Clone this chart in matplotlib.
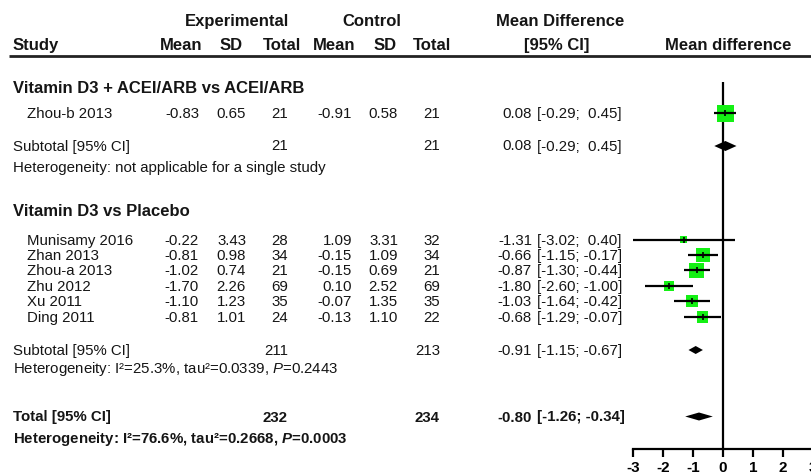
import numpy as np
import matplotlib
matplotlib.use('Agg')
import matplotlib.pyplot as plt

plt.rcParams['font.family'] = ['Liberation Sans', 'DejaVu Sans']
plt.rcParams['mathtext.fontset'] = 'custom'
plt.rcParams['mathtext.rm'] = 'Liberation Sans'
plt.rcParams['mathtext.it'] = 'Liberation Sans:italic'
plt.rcParams['mathtext.bf'] = 'Liberation Sans:bold'
plt.rcParams['mathtext.bfit'] = 'Liberation Sans:bold:italic'

# ---- data ----
group_names = ['Vitamin D3 + ACEI/ARB vs ACEI/ARB', 'Vitamin D3 vs Placebo']
study = ['Zhou-b 2013', 'Munisamy 2016', 'Zhan 2013', 'Zhou-a 2013', 'Zhu 2012', 'Xu 2011', 'Ding 2011']
group = [0, 1, 1, 1, 1, 1, 1]
exp_mean = [-0.83, -0.22, -0.81, -1.02, -1.70, -1.10, -0.81]
exp_sd = [0.65, 3.43, 0.98, 0.74, 2.26, 1.23, 1.01]
exp_n = [21, 28, 34, 21, 69, 35, 24]
ctl_mean = [-0.91, 1.09, -0.15, -0.15, 0.10, -0.07, -0.13]
ctl_sd = [0.58, 3.31, 1.09, 0.69, 2.52, 1.35, 1.10]
ctl_n = [21, 32, 34, 21, 69, 35, 22]
md = [0.08, -1.31, -0.66, -0.87, -1.80, -1.03, -0.68]
ci_lo = [-0.29, -3.02, -1.15, -1.30, -2.60, -1.64, -1.29]
ci_hi = [0.45, 0.40, -0.17, -0.44, -1.00, -0.42, -0.07]

sub_exp_n = [21, 211]
sub_ctl_n = [21, 213]
sub_md = [0.08, -0.91]
sub_lo = [-0.29, -1.15]
sub_hi = [0.45, -0.67]
sub_i2 = [None, '25.3%']
sub_tau2 = [None, '0.0339']
sub_p = [None, '0.2443']

tot_exp_n = 232
tot_ctl_n = 234
tot_md = -0.80
tot_lo = -1.26
tot_hi = -0.34
tot_i2 = '76.6%'
tot_tau2 = '0.2668'
tot_p = '0.0003'

x_ticks = [-3, -2, -1, 0, 1, 2, 3]

# ---- layout (pixel rows from the top) ----
BODY = 10.8
HEAD = 12
TXT = '#151515'
GREEN = '#14f014'

head_y = [88, 211]
study_y = [113] + [239.5 + 15.45 * i for i in range(6)]
sub_y = [145.5, 350]
het_y = [167, 368]
total_y = 416.5
total_het_y = 438
axis_y = 449

col_right = [199, 246, 288, 352, 398, 440, 532]
ci_left = 537


def f2(v):
    return f'{v:.2f}'


def ci_str(lo, hi):
    return f'[{lo:5.2f}; {hi:5.2f}]'


fig = plt.figure(figsize=(8.12, 4.74), dpi=100)
tx = fig.add_axes([0, 0, 1, 1])
tx.set_xlim(0, 812)
tx.set_ylim(474, 0)
tx.axis('off')


def put(x, y, s, ha='left', bold=False, size=BODY):
    tx.text(x, y + 5, s, ha=ha, va='baseline', fontsize=size,
            fontweight='bold' if bold else 'normal', color=TXT)


# column headers
put(237.5, 21, 'Experimental', ha='center', bold=True, size=HEAD)
put(372, 21, 'Control', ha='center', bold=True, size=HEAD)
put(560, 21, 'Mean Difference', ha='center', bold=True, size=HEAD)
put(13, 45, 'Study', bold=True, size=HEAD)
for xc, lab in zip([181.5, 231.5, 282.5, 334, 385, 432.5, 557, 728.5],
                   ['Mean', 'SD', 'Total', 'Mean', 'SD', 'Total', '[95% CI]', 'Mean difference']):
    put(xc, 45, lab, ha='center', bold=True, size=HEAD)
tx.plot([9, 812], [56, 56], color='#222222', lw=2.0, solid_capstyle='butt')

# study rows
for i in range(len(study)):
    y = study_y[i]
    put(27, y, study[i])
    vals = [f2(exp_mean[i]), f2(exp_sd[i]), str(exp_n[i]),
            f2(ctl_mean[i]), f2(ctl_sd[i]), str(ctl_n[i]), f2(md[i])]
    for xr, v in zip(col_right, vals):
        put(xr, y, v, ha='right')
    put(ci_left, y, ci_str(ci_lo[i], ci_hi[i]))

# subgroup headers, subtotals and heterogeneity
for g in range(2):
    put(13, head_y[g], group_names[g], bold=True, size=HEAD)
    put(13, sub_y[g], 'Subtotal [95% CI]')
    put(col_right[2], sub_y[g], str(sub_exp_n[g]), ha='right')
    put(col_right[5], sub_y[g], str(sub_ctl_n[g]), ha='right')
    put(col_right[6], sub_y[g], f2(sub_md[g]), ha='right')
    put(ci_left, sub_y[g], ci_str(sub_lo[g], sub_hi[g]))
    if sub_i2[g] is None:
        put(13, het_y[g], 'Heterogeneity: not applicable for a single study')
    else:
        put(13, het_y[g], f'Heterogeneity: I²={sub_i2[g]}, tau²={sub_tau2[g]}, '
                          r'$\mathit{P}$' + f'={sub_p[g]}')

# overall
put(13, total_y, 'Total [95% CI]', bold=True)
put(col_right[2], total_y, str(tot_exp_n), ha='right', bold=True)
put(col_right[5], total_y, str(tot_ctl_n), ha='right', bold=True)
put(col_right[6], total_y, f2(tot_md), ha='right', bold=True)
put(ci_left, total_y, ci_str(tot_lo, tot_hi), bold=True)
put(13, total_het_y, f'Heterogeneity: I²={tot_i2}, tau²={tot_tau2}, '
                     r'$\mathbfit{P}$' + f'={tot_p}', bold=True)

# ---- forest panel ----
ax = fig.add_axes([633 / 812, 0, 180 / 812, 1])
ax.set_xlim(-3, 3)
ax.set_ylim(474, 0)
ax.patch.set_visible(False)
for side in ['top', 'right', 'left']:
    ax.spines[side].set_visible(False)
ax.spines['bottom'].set_position(('data', axis_y))
ax.spines['bottom'].set_linewidth(1.6)
ax.set_yticks([])
ax.set_xticks(x_ticks)
ax.set_xticklabels([str(t) for t in x_ticks])
ax.tick_params(axis='x', direction='out', length=5.8, width=1.6, pad=2.8, labelsize=11)
for lab in ax.get_xticklabels():
    lab.set_fontweight('bold')

ax.vlines(0, 82, axis_y, color='black', lw=1.6, zorder=1)

# box size from inverse-variance weight
lo_a = np.array(ci_lo)
hi_a = np.array(ci_hi)
se = (hi_a - lo_a) / 3.92
w = 1 / se ** 2
side_px = 3.7 + 13.3 * np.sqrt(w / w.max())
side_pt = side_px * 72 / fig.dpi

ax.scatter(md, study_y, s=side_pt ** 2, marker='s', color=GREEN, edgecolors='none', zorder=2)
ax.hlines(study_y, ci_lo, ci_hi, color='black', lw=1.6, zorder=3)
ax.plot(md, study_y, ls='none', marker='|', ms=4, mew=1.2, color='black', zorder=4)


def diamond(m, lo, hi, y, h):
    ax.fill([lo, m, hi, m], [y, y - h / 2, y, y + h / 2], color='black', zorder=3, lw=0)


diamond(sub_md[0], sub_lo[0], sub_hi[0], sub_y[0] + 0.5, 10)
diamond(sub_md[1], sub_lo[1], sub_hi[1], sub_y[1], 8)
diamond(tot_md, tot_lo, tot_hi, total_y, 8)

fig.savefig('out.png', dpi=100)
